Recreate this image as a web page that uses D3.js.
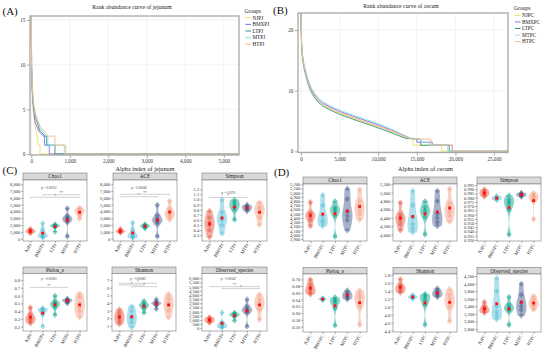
<!DOCTYPE html>
<html>
<head>
<meta charset="utf-8">
<script src="https://cdn.jsdelivr.net/npm/d3@7/dist/d3.min.js"></script>
<style>
  body { margin: 0; background: #fff; }
  svg { display: block; font-family: "Liberation Serif", "Times New Roman", serif; }
</style>
</head>
<body>
<svg id="chart" width="550" height="355"></svg>
<script>
// group names
var jejunumGroups = ["NJPJ", "BMXPJ", "LTPJ", "MTPJ", "HTPJ"];
var cecumGroups = ["NJPC", "BMXPC", "LTPC", "MTPC", "HTPC"];

// rank abundance curves, [rank, abundance]
var rankNJPJ = [[0,15.5],[8,9],[25,6.5],[52,4.9],[100,3.2],[140,2.2],[165,1.6],[180,1],[226,1],[226,0],[5600,0]];
var rankBMXPJ = [[0,15.5],[8,9.5],[25,7],[52,5.3],[96,3.6],[200,2.5],[310,2],[340,2],[340,1],[468,1],[468,0],[5600,0]];
var rankLTPJ = [[0,15.5],[8,9.8],[25,7.3],[52,5.6],[100,4.2],[226,2.6],[356,2],[400,2],[400,1],[615,1],[615,0],[5600,0]];
var rankMTPJ = [[0,15.5],[8,10],[25,7.5],[52,5.8],[100,4.4],[226,2.9],[380,2.1],[430,2],[430,1],[857,1],[857,0],[5600,0]];
var rankHTPJ = [[0,15.5],[8,10.3],[25,7.8],[52,6],[100,4.6],[226,3.1],[380,2.3],[440,2],[615,2],[615,1],[893,1],[893,0],[5600,0]];

var rankNJPC = [[0,22.8],[30,20],[80,17.5],[170,15.8],[350,14.2],[520,13.2],[750,12.1],[1000,11.0],[1400,9.8],[1800,9.0],[2250,8.3],[2800,7.7],[3500,7.2],[4300,6.7],[5200,6.2],[6300,5.7],[7500,5.15],[8800,4.6],[10000,4.05],[11000,3.6],[12000,3.1],[12800,2.7],[13500,2.3],[14000,2.1],[14500,2],[14500,1],[18200,1],[18200,0],[28000,0]];
var rankBMXPC = [[0,22.8],[30,20.2],[80,17.7],[170,16.0],[350,14.4],[520,13.5],[750,12.4],[1000,11.3],[1400,10.1],[1800,9.3],[2250,8.6],[2800,8.0],[3500,7.5],[4300,7.0],[5200,6.5],[6300,6.0],[7500,5.45],[8800,4.9],[10000,4.35],[11000,3.85],[12000,3.35],[12800,2.9],[13500,2.5],[14000,2.15],[15000,2],[15000,1.5],[17000,1.5],[17000,1],[19600,1],[19600,0],[28000,0]];
var rankLTPC = [[0,22.8],[30,19.8],[80,17.3],[170,15.6],[350,14.0],[520,13.0],[750,11.9],[1000,10.8],[1400,9.6],[1800,8.8],[2250,8.1],[2800,7.5],[3500,7.0],[4300,6.5],[5200,6.0],[6300,5.5],[7500,4.95],[8800,4.4],[10000,3.85],[11000,3.4],[12000,2.9],[12800,2.5],[13500,2.15],[15500,2],[15500,1],[19200,1],[19200,0],[28000,0]];
var rankMTPC = [[0,22.8],[30,20.3],[80,17.9],[170,16.2],[350,14.6],[520,13.7],[750,12.6],[1000,11.5],[1400,10.3],[1800,9.5],[2250,8.8],[2800,8.2],[3500,7.7],[4300,7.2],[5200,6.7],[6300,6.2],[7500,5.65],[8800,5.1],[10000,4.55],[11000,4.05],[12000,3.5],[12800,3.0],[13500,2.6],[14200,2.2],[15500,2],[15500,1.5],[16500,1.5],[16500,1],[19000,1],[19000,0],[28000,0]];
var rankHTPC = [[0,22.8],[30,20.1],[80,17.6],[170,15.9],[350,14.3],[520,13.3],[750,12.2],[1000,11.1],[1400,9.9],[1800,9.1],[2250,8.4],[2800,7.8],[3500,7.3],[4300,6.8],[5200,6.3],[6300,5.8],[7500,5.25],[8800,4.7],[10000,4.15],[11000,3.7],[12000,3.2],[12800,2.8],[13500,2.4],[14200,2.1],[15000,2],[16800,2],[16800,1],[19600,1],[19600,0],[28000,0]];

var rankTicksJX = [0, 1000, 2000, 3000, 4000, 5000];
var rankTicksJY = [0, 5, 10, 15];
var rankTicksCX = [0, 5000, 10000, 15000, 20000, 25000];
var rankTicksCY = [0, 10, 20];

// alpha diversity, six samples per group (NJ, BMX, LT, MT, HT)
var chao1J = [[800,950,1050,1150,1300,1450],[150,250,350,600,1300,2300],[1000,1700,1800,1900,2000,2150],[300,2500,2800,3000,3300,4500],[2900,3500,3900,4100,4300,4600]];
var aceJ = [[850,1000,1050,1150,1250,1450],[100,250,400,650,1300,2400],[1500,1700,1800,1900,2000,2150],[300,2300,2600,2900,3400,5000],[2750,3300,3600,3900,4400,5600]];
var simpsonJ = [[0.26,0.4,0.5,0.55,0.65,0.78],[0.33,0.5,0.6,0.65,0.75,1.0],[0.6,0.8,0.85,0.9,0.95,1.0],[0.77,0.8,0.83,0.85,0.87,0.9],[0.5,0.65,0.75,0.8,0.85,0.95]];
var pielouJ = [[0.24,0.27,0.3,0.32,0.36,0.45],[0.2,0.36,0.4,0.42,0.43,0.44],[0.35,0.45,0.48,0.5,0.52,0.6],[0.5,0.52,0.53,0.54,0.55,0.56],[0.32,0.4,0.45,0.5,0.58,0.63]];
var shannonJ = [[1.2,1.6,2.0,2.3,2.7,3.2],[0.8,1.5,2.0,2.3,3.0,3.6],[2.7,3.3,3.6,3.7,3.9,4.3],[3.2,3.7,3.9,4.0,4.1,4.5],[2.1,3.0,3.6,4.0,4.6,5.2]];
var observedJ = [[650,800,950,1050,1200,1350],[50,150,300,500,700,1900],[900,1400,1550,1650,1750,1900],[200,1900,2100,2300,2600,3500],[1000,2300,2800,3100,3500,4100]];

var chao1C = [[4200,4350,4420,4480,4520,4780],[4200,4300,4350,4450,4700,4950],[3950,4450,4550,4600,4650,4800],[4100,4350,4450,4550,4850,5100],[4350,4500,4600,4700,4800,5080]];
var aceC = [[4100,4250,4350,4420,4480,4770],[4050,4150,4250,4400,4700,5050],[4000,4420,4520,4580,4650,4800],[4200,4300,4400,4500,4800,5050],[4300,4450,4550,4650,4750,5100]];
var simpsonC = [[0.981,0.983,0.985,0.986,0.988,0.99],[0.977,0.978,0.979,0.98,0.981,0.982],[0.936,0.966,0.972,0.975,0.978,0.983],[0.981,0.982,0.983,0.984,0.985,0.986],[0.954,0.976,0.979,0.981,0.983,0.986]];
var pielouC = [[0.655,0.66,0.668,0.675,0.685,0.70],[0.638,0.64,0.641,0.642,0.643,0.645],[0.563,0.615,0.63,0.636,0.64,0.648],[0.64,0.645,0.65,0.655,0.66,0.668],[0.565,0.62,0.632,0.645,0.655,0.668]];
var shannonC = [[5.35,5.4,5.45,5.5,5.55,5.7],[5.2,5.22,5.24,5.25,5.27,5.3],[4.54,5.05,5.15,5.22,5.28,5.33],[5.24,5.28,5.32,5.36,5.4,5.47],[4.63,5.0,5.1,5.2,5.3,5.45]];
var observedC = [[3220,3260,3300,3340,3400,3520],[3050,3150,3250,3400,3800,4150],[2900,3280,3330,3380,3450,3650],[3150,3300,3400,3500,3700,4000],[3300,3400,3450,3500,3580,3680]];

// tick values of the facets
var ticksChao1J = [0,1000,2000,3000,4000,5000,6000,7000,8000];
var ticksSimpsonJ = [0.3,0.4,0.5,0.6,0.7,0.8,0.9,1.0,1.1,1.2];
var ticksPielouJ = [0.2,0.3,0.4,0.5,0.6,0.7,0.8];
var ticksShannonJ = [1,2,3,4,5,6,7];
var ticksObservedJ = [0,500,1000,1500,2000,2500,3000,3500,4000,4500,5000,5500,6000];
var ticksChao1C = [3900,4000,4100,4200,4300,4400,4500,4600,4700,4800,4900,5000,5100,5200];
var ticksAceC = [4000,4200,4400,4600,4800,5000,5200];
var ticksSimpsonC = [0.930,0.935,0.940,0.945,0.950,0.955,0.960,0.965,0.970,0.975,0.980,0.985,0.990,0.995];
var ticksPielouC = [0.56,0.58,0.60,0.62,0.64,0.66,0.68,0.70];
var ticksShannonC = [4.4,4.6,4.8,5.0,5.2,5.4,5.6,5.8];
var ticksObservedC = [2800,3000,3200,3400,3600,3800,4000,4200];

// significance brackets (jejunum only)
var sigChao1J = [{a:"BMXPJ", b:"HTPJ", y:6470, label:"**"}, {a:"NJPJ", b:"HTPJ", y:6090, label:"*"}];
var sigAceJ = [{a:"NJPJ", b:"HTPJ", y:6530, label:"**"}, {a:"NJPJ", b:"MTPJ", y:6180, label:"*"}];
var sigSimpsonJ = [{a:"NJPJ", b:"MTPJ", y:1.04, label:"*"}];
var sigPielouJ = [{a:"NJPJ", b:"MTPJ", y:0.706, label:"**"}];
var sigShannonJ = [{a:"NJPJ", b:"MTPJ", y:6.57, label:"*"}, {a:"NJPJ", b:"LTPJ", y:6.35, label:"*"}, {a:"BMXPJ", b:"MTPJ", y:6.13, label:"*"}];
var sigObservedJ = [{a:"NJPJ", b:"HTPJ", y:5000, label:"**"}, {a:"BMXPJ", b:"HTPJ", y:4780, label:"*"}];
var pTextJ = ["p = 0.00052", "p = 0.00049", "p = 0.0195", "p = 0.00063", "p = 0.00082", "p = 0.00047"];
var pLevelJ = [7450, 7450, 1.133, 0.813, 7.13, 5916];

var rankColors = ["#f3dc5e", "#7f6cf0", "#2a9585", "#8fe3e3", "#f8b68c"];
var npgColors = ["#E64B35", "#4DBBD5", "#00A087", "#3C5488", "#F39B7F"];

var svg = d3.select("#chart");

function styleAxis(sel, size) {
  sel.select(".domain").remove();
  sel.attr("font-family", null).attr("font-size", size);
  sel.selectAll(".tick line").attr("stroke", "#555").attr("stroke-width", 0.5);
  sel.selectAll(".tick text").attr("fill", "#333");
}

// Rank abundance panels (A and B)
function rankPanel(p) {
  var x = d3.scaleLinear().domain(p.xDomain).range([p.left, p.right]);
  var y = d3.scaleLinear().domain(p.yDomain).range([p.bottom, p.top]);
  var g = svg.append("g");

  g.append("clipPath").attr("id", p.id).append("rect")
    .attr("x", p.left).attr("y", p.top)
    .attr("width", p.right - p.left).attr("height", p.bottom - p.top);

  g.selectAll("line.gx").data(p.xTicks).enter().append("line")
    .attr("x1", function(d) { return x(d); }).attr("x2", function(d) { return x(d); })
    .attr("y1", p.top).attr("y2", p.bottom)
    .attr("stroke", "#eeeeee").attr("stroke-width", 0.7);
  g.selectAll("line.gy").data(p.yTicks).enter().append("line")
    .attr("y1", function(d) { return y(d); }).attr("y2", function(d) { return y(d); })
    .attr("x1", p.left).attr("x2", p.right)
    .attr("stroke", "#eeeeee").attr("stroke-width", 0.7);

  var line = d3.line()
    .x(function(d) { return x(d[0]); })
    .y(function(d) { return y(d[1]); });

  g.append("g").attr("clip-path", "url(#" + p.id + ")")
    .selectAll("path").data(p.series).enter().append("path")
    .attr("d", line)
    .attr("fill", "none")
    .attr("stroke", function(d, i) { return rankColors[i]; })
    .attr("stroke-width", 0.9);

  g.append("rect")
    .attr("x", p.left).attr("y", p.top)
    .attr("width", p.right - p.left).attr("height", p.bottom - p.top)
    .attr("fill", "none").attr("stroke", "#a8a8a8").attr("stroke-width", 1.3);

  var ax = g.append("g").attr("transform", "translate(0," + (p.bottom + 0.6) + ")")
    .call(d3.axisBottom(x).tickValues(p.xTicks).tickFormat(d3.format(",")).tickSize(2.5).tickPadding(1.5));
  styleAxis(ax, 5.2);
  var ay = g.append("g").attr("transform", "translate(" + (p.left - 0.6) + ",0)")
    .call(d3.axisLeft(y).tickValues(p.yTicks).tickSize(2.5).tickPadding(1.5));
  styleAxis(ay, 5.2);

  g.append("text").attr("x", p.titleX).attr("y", p.titleY)
    .attr("text-anchor", "middle").attr("font-size", 5.8).attr("fill", "#222")
    .text(p.title);

  // legend
  var lg = g.append("g").attr("transform", "translate(" + p.legendX + "," + p.legendY + ")");
  lg.append("text").attr("x", 0).attr("y", 0).attr("font-size", 5.6).attr("fill", "#222").text("Groups");
  p.groups.forEach(function(name, i) {
    var yy = 7 + i * 6.6;
    lg.append("line").attr("x1", 1).attr("x2", 6.5).attr("y1", yy - 1.7).attr("y2", yy - 1.7)
      .attr("stroke", rankColors[i]).attr("stroke-width", 1);
    lg.append("text").attr("x", 8).attr("y", yy).attr("font-size", 5.2).attr("fill", "#222").text(name);
  });
}

// Gaussian kernel density with R's bw.nrd0 bandwidth, trimmed to the data range
function density(vals) {
  var s = vals.slice().sort(d3.ascending);
  var sd = d3.deviation(s);
  var iqr = d3.quantile(s, 0.75) - d3.quantile(s, 0.25);
  var lo = Math.min(sd, iqr / 1.34) || sd;
  var bw = 0.9 * lo * Math.pow(s.length, -0.2);
  var lowV = s[0], highV = s[s.length - 1];
  return d3.range(61).map(function(k) {
    var v = lowV + (highV - lowV) * k / 60;
    return [v, d3.mean(s, function(d) { return Math.exp(-0.5 * Math.pow((v - d) / bw, 2)); })];
  });
}

function diamondPath(cx, cy) {
  var w = 2.5, h = 2.9;
  return "M" + cx + "," + (cy - h) + "L" + (cx + w) + "," + cy + "L" + cx + "," + (cy + h) + "L" + (cx - w) + "," + cy + "Z";
}

// One facet of the alpha diversity panels (C and D)
function facet(f) {
  var x0 = f.cols[0], x1 = f.cols[1];
  var x = d3.scalePoint().domain(f.groups).range([x0, x1]).padding(0.6);
  var y = d3.scaleLinear().domain(f.yDomain).range([f.row.bottom, f.row.top]);
  var half = x.step() * 0.42;
  var g = svg.append("g");

  g.append("rect").attr("x", x0).attr("y", f.row.stripTop)
    .attr("width", x1 - x0).attr("height", f.row.top - f.row.stripTop)
    .attr("fill", "#d9d9d9").attr("stroke", "#7a7a7a").attr("stroke-width", 0.6);
  g.append("text").attr("x", (x0 + x1) / 2).attr("y", (f.row.stripTop + f.row.top) / 2 + 1.8)
    .attr("text-anchor", "middle").attr("font-size", 5.2).attr("fill", "#1a1a1a").text(f.name);

  g.append("rect").attr("x", x0).attr("y", f.row.top)
    .attr("width", x1 - x0).attr("height", f.row.bottom - f.row.top)
    .attr("fill", "#fff");

  var clipId = "clip-" + f.id;
  g.append("clipPath").attr("id", clipId).append("rect")
    .attr("x", x0).attr("y", f.row.top)
    .attr("width", x1 - x0).attr("height", f.row.bottom - f.row.top);
  var inner = g.append("g").attr("clip-path", "url(#" + clipId + ")");

  f.values.forEach(function(vals, i) {
    var cx = x(f.groups[i]);
    var dens = density(vals);
    var maxD = d3.max(dens, function(d) { return d[1]; });
    var w = d3.scaleLinear().domain([0, maxD]).range([0.3, half]);
    var area = d3.area()
      .y(function(d) { return y(d[0]); })
      .x0(function(d) { return cx - w(d[1]); })
      .x1(function(d) { return cx + w(d[1]); })
      .curve(d3.curveBasis);
    inner.append("path").attr("d", area(dens))
      .attr("fill", npgColors[i]).attr("fill-opacity", 0.45);
    inner.selectAll(null).data(vals).enter().append("path")
      .attr("d", function(d) { return diamondPath(cx, y(d)); })
      .attr("fill", npgColors[i]).attr("fill-opacity", 0.5);
    var m = d3.mean(vals);
    inner.append("rect").attr("x", cx - 1.4).attr("y", y(m) - 1.4)
      .attr("width", 2.8).attr("height", 2.8).attr("fill", "#ff1010");
  });

  (f.sig || []).forEach(function(s) {
    var xa = x(s.a), xb = x(s.b), yy = y(s.y);
    inner.append("path")
      .attr("d", "M" + xa + "," + (yy + 0.8) + "V" + yy + "H" + xb + "V" + (yy + 0.8))
      .attr("fill", "none").attr("stroke", "#8a8a8a").attr("stroke-width", 0.4);
    inner.append("text").attr("x", (xa + xb) / 2).attr("y", yy - 0.4)
      .attr("text-anchor", "middle").attr("font-size", 3.4).attr("fill", "#444").text(s.label);
  });
  if (f.pText) {
    inner.append("text").attr("x", (x0 + x1) / 2 - 6).attr("y", y(f.pLevel) + 1)
      .attr("text-anchor", "middle").attr("font-size", 3.2).attr("fill", "#444").text(f.pText);
  }

  g.append("rect").attr("x", x0).attr("y", f.row.top)
    .attr("width", x1 - x0).attr("height", f.row.bottom - f.row.top)
    .attr("fill", "none").attr("stroke", "#7a7a7a").attr("stroke-width", 0.6);

  var ay = g.append("g").attr("transform", "translate(" + x0 + ",0)")
    .call(d3.axisLeft(y).tickValues(f.ticks).tickFormat(d3.format(f.fmt)).tickSize(1.8).tickPadding(1));
  styleAxis(ay, 4.5);

  var ax = g.append("g").attr("transform", "translate(0," + f.row.bottom + ")")
    .call(d3.axisBottom(x).tickSize(1.8).tickFormat(""));
  styleAxis(ax, 4.5);

  g.selectAll("text.xl").data(f.groups).enter().append("text")
    .attr("transform", function(d) { return "translate(" + (x(d) + 1.6) + "," + (f.row.bottom + 3.6) + ") rotate(-60)"; })
    .attr("text-anchor", "end").attr("font-size", 4.6).attr("fill", "#333")
    .text(function(d) { return d; });
}

// ---- panel A and B
rankPanel({
  id: "clipA", left: 30, right: 239, top: 16, bottom: 155,
  xDomain: [-34, 5395], yDomain: [-0.11, 15.45],
  xTicks: rankTicksJX, yTicks: rankTicksJY,
  series: [rankNJPJ, rankBMXPJ, rankLTPJ, rankMTPJ, rankHTPJ],
  groups: jejunumGroups,
  title: "Rank abundance curve of jejunum", titleX: 132, titleY: 9.3,
  legendX: 244.5, legendY: 12.5
});
rankPanel({
  id: "clipB", left: 298, right: 508, top: 13, bottom: 152.5,
  xDomain: [-389, 26813], yDomain: [-0.2, 22.82],
  xTicks: rankTicksCX, yTicks: rankTicksCY,
  series: [rankNJPC, rankBMXPC, rankLTPC, rankMTPC, rankHTPC],
  groups: cecumGroups,
  title: "Rank abundance curve of cecum", titleX: 401, titleY: 7.6,
  legendX: 514, legendY: 10
});

// ---- panel C and D
var rowJ1 = {stripTop: 173, top: 180, bottom: 241};
var rowJ2 = {stripTop: 267, top: 273.5, bottom: 331};
var rowC1 = {stripTop: 177, top: 184, bottom: 241};
var rowC2 = {stripTop: 267.5, top: 274, bottom: 332};

var facets = [
  {id: "j1", name: "Chao1", groups: jejunumGroups, values: chao1J, cols: [23, 87], row: rowJ1, yDomain: [-338, 8632], ticks: ticksChao1J, fmt: ",", sig: sigChao1J, pText: pTextJ[0], pLevel: pLevelJ[0]},
  {id: "j2", name: "ACE", groups: jejunumGroups, values: aceJ, cols: [113, 177], row: rowJ1, yDomain: [-338, 8632], ticks: ticksChao1J, fmt: ",", sig: sigAceJ, pText: pTextJ[1], pLevel: pLevelJ[1]},
  {id: "j3", name: "Simpson", groups: jejunumGroups, values: simpsonJ, cols: [202, 267], row: rowJ1, yDomain: [0.188, 1.382], ticks: ticksSimpsonJ, fmt: ".1f", sig: sigSimpsonJ, pText: pTextJ[2], pLevel: pLevelJ[2]},
  {id: "j4", name: "Pielou_e", groups: jejunumGroups, values: pielouJ, cols: [23, 87], row: rowJ2, yDomain: [0.145, 0.884], ticks: ticksPielouJ, fmt: ".1f", sig: sigPielouJ, pText: pTextJ[3], pLevel: pLevelJ[3]},
  {id: "j5", name: "Shannon", groups: jejunumGroups, values: shannonJ, cols: [112, 176], row: rowJ2, yDomain: [0.348, 7.85], ticks: ticksShannonJ, fmt: "d", sig: sigShannonJ, pText: pTextJ[4], pLevel: pLevelJ[4]},
  {id: "j6", name: "Observed_species", groups: jejunumGroups, values: observedJ, cols: [202, 267], row: rowJ2, yDomain: [-324, 6576], ticks: ticksObservedJ, fmt: ",", sig: sigObservedJ, pText: pTextJ[5], pLevel: pLevelJ[5]},
  {id: "c1", name: "Chao1", groups: cecumGroups, values: chao1C, cols: [303, 367], row: rowC1, yDomain: [3852, 5207], ticks: ticksChao1C, fmt: ","},
  {id: "c2", name: "ACE", groups: cecumGroups, values: aceC, cols: [393, 457], row: rowC1, yDomain: [3851, 5205], ticks: ticksAceC, fmt: ","},
  {id: "c3", name: "Simpson", groups: cecumGroups, values: simpsonC, cols: [477, 541], row: rowC1, yDomain: [0.9288, 0.9962], ticks: ticksSimpsonC, fmt: ".3f"},
  {id: "c4", name: "Pielou_e", groups: cecumGroups, values: pielouC, cols: [303, 367], row: rowC2, yDomain: [0.5443, 0.7157], ticks: ticksPielouC, fmt: ".2f"},
  {id: "c5", name: "Shannon", groups: cecumGroups, values: shannonC, cols: [393, 457], row: rowC2, yDomain: [4.367, 5.825], ticks: ticksShannonC, fmt: ".1f"},
  {id: "c6", name: "Observed_species", groups: cecumGroups, values: observedC, cols: [477, 541], row: rowC2, yDomain: [2721, 4253], ticks: ticksObservedC, fmt: ","}
];
facets.forEach(facet);

svg.append("text").attr("x", 145).attr("y", 170.5).attr("text-anchor", "middle")
  .attr("font-size", 6.2).attr("fill", "#222").text("Alpha index of jejunum");
svg.append("text").attr("x", 425.5).attr("y", 170.5).attr("text-anchor", "middle")
  .attr("font-size", 6.2).attr("fill", "#222").text("Alpha index of cecum");

// panel letters
var letters = [["(A)", 2.5, 14.8], ["(B)", 273, 14], ["(C)", 2.5, 174], ["(D)", 274, 175.5]];
svg.selectAll("text.letter").data(letters).enter().append("text")
  .attr("x", function(d) { return d[1]; }).attr("y", function(d) { return d[2]; })
  .attr("font-size", 11).attr("fill", "#111")
  .text(function(d) { return d[0]; });
</script>
</body>
</html>
